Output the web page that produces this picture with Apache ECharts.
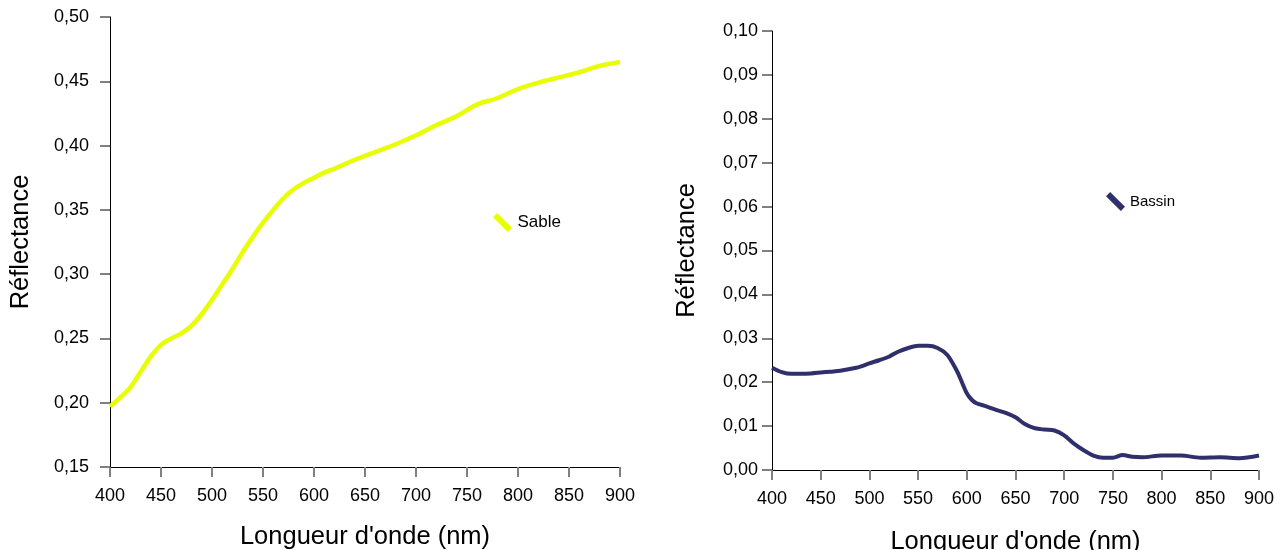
<!DOCTYPE html>
<html>
<head>
<meta charset="utf-8">
<script src="https://cdn.jsdelivr.net/npm/echarts@6/dist/echarts.min.js"></script>
<style>
  html, body { margin: 0; padding: 0; background: #fff; }
  #chart { width: 1285px; height: 550px; }
</style>
</head>
<body>
<div id="chart"></div>
<script>
// longueurs d'onde (nm) et réflectances
const sableNm = [400, 410, 420, 430, 440, 450, 460, 470, 480, 490, 500, 510, 520, 530, 540, 550, 560, 570, 580, 590,
  600, 610, 620, 640, 660, 680, 700, 720, 740, 760, 780, 800, 820, 840, 860, 880, 900]
const sableRefl = [0.197, 0.204, 0.212, 0.224, 0.236, 0.245, 0.250, 0.254, 0.260, 0.269, 0.280, 0.292, 0.304, 0.317,
  0.329, 0.340, 0.350, 0.359, 0.366, 0.371, 0.375, 0.379, 0.382, 0.389, 0.395, 0.401, 0.408, 0.416, 0.423, 0.432,
  0.437, 0.444, 0.449, 0.453, 0.457, 0.462, 0.465]

const bassinNm = [400, 410, 420, 430, 440, 450, 460, 470, 480, 490, 500, 510, 520, 530, 540, 550, 560, 570, 580, 590,
  595, 600, 605, 610, 620, 630, 640, 650, 660, 670, 680, 690, 700, 710, 720, 730, 740, 750, 760, 770, 780, 800,
  820, 840, 860, 880, 900]
const bassinRefl = [0.0233, 0.0223, 0.0219, 0.0219, 0.0220, 0.0222, 0.0224, 0.0226, 0.0230, 0.0235, 0.0243, 0.0250,
  0.0258, 0.0270, 0.0278, 0.0283, 0.0283, 0.0278, 0.0262, 0.0225, 0.0200, 0.0175, 0.0160, 0.0152, 0.0145, 0.0137,
  0.0130, 0.0120, 0.0104, 0.0095, 0.0092, 0.0090, 0.0079, 0.0060, 0.0045, 0.0033, 0.0028, 0.0028, 0.0034, 0.0030,
  0.0029, 0.0033, 0.0033, 0.0028, 0.0029, 0.0027, 0.0033]

const FONT = '"Liberation Sans", Arial, sans-serif'
// petit trait oblique comme dans la légende d'origine
const legendIcon = 'path://M0,4.4 L4.4,0 L20,15.6 L15.6,20 Z'

const toPairs = (xs, ys) => xs.map((x, i) => [x, ys[i]])
const comma = (v) => v.toFixed(2).replace('.', ',')

const xAxisFor = (gridIndex, nameGap) => ({
  type: 'value',
  gridIndex,
  min: 400,
  max: 900,
  interval: 50,
  name: "Longueur d'onde (nm)",
  nameLocation: 'middle',
  nameGap,
  nameTextStyle: { fontFamily: FONT, fontSize: 25.5, color: '#000' },
  axisLine: { lineStyle: { color: '#000', width: 1 } },
  axisTick: { show: true, length: 10, lineStyle: { color: '#808080', width: 2 } },
  axisLabel: { margin: 20, fontFamily: FONT, fontSize: 18, color: '#000' },
  splitLine: { show: false },
})

const yAxisFor = (gridIndex, min, max, interval, nameGap, labelMargin) => ({
  type: 'value',
  gridIndex,
  min,
  max,
  interval,
  name: 'Réflectance',
  nameLocation: 'middle',
  nameGap,
  nameTextStyle: { fontFamily: FONT, fontSize: 25.5, color: '#000' },
  axisLine: { show: true, lineStyle: { color: '#000', width: 1 } },
  axisTick: { show: true, length: 10, lineStyle: { color: '#808080', width: 2 } },
  axisLabel: { margin: labelMargin, fontFamily: FONT, fontSize: 18, color: '#000', formatter: comma },
  splitLine: { show: false },
})

const chart = echarts.init(document.getElementById('chart'))

chart.setOption({
  backgroundColor: '#fff',
  animation: false,
  grid: [
    { left: 110, top: 17, right: 665, bottom: 83, outerBoundsMode: 'none' },
    { left: 772, top: 31, right: 26, bottom: 80, outerBoundsMode: 'none' },
  ],
  xAxis: [xAxisFor(0, 57), xAxisFor(1, 59)],
  yAxis: [
    yAxisFor(0, 0.15, 0.5, 0.05, 76, 21),
    yAxisFor(1, 0, 0.1, 0.01, 72, 14),
  ],
  legend: [
    {
      data: [{ name: 'Sable', icon: legendIcon }],
      left: 493,
      top: 213,
      padding: 0,
      itemWidth: 20,
      itemHeight: 19,
      textStyle: { fontFamily: FONT, fontSize: 17, color: '#000' },
    },
    {
      data: [{ name: 'Bassin', icon: legendIcon }],
      left: 1106,
      top: 192,
      padding: 0,
      itemWidth: 19,
      itemHeight: 19,
      textStyle: { fontFamily: FONT, fontSize: 15, color: '#000' },
    },
  ],
  series: [
    {
      name: 'Sable',
      type: 'line',
      xAxisIndex: 0,
      yAxisIndex: 0,
      data: toPairs(sableNm, sableRefl),
      smooth: 0.3,
      showSymbol: false,
      color: '#e8ff00',
      lineStyle: { width: 4.5, color: '#e8ff00' },
    },
    {
      name: 'Bassin',
      type: 'line',
      xAxisIndex: 1,
      yAxisIndex: 1,
      data: toPairs(bassinNm, bassinRefl),
      smooth: 0.3,
      showSymbol: false,
      color: '#2f2f6b',
      lineStyle: { width: 4, color: '#2f2f6b' },
    },
  ],
})
</script>
</body>
</html>
